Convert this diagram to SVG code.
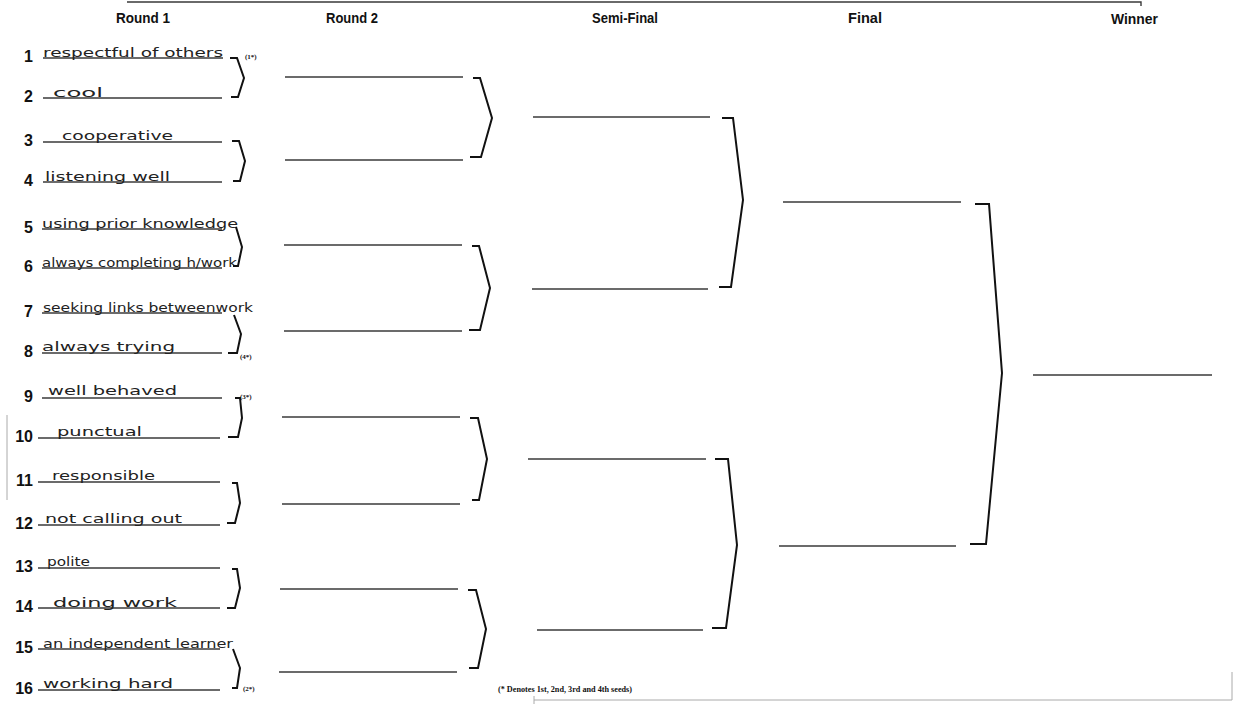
<svg xmlns="http://www.w3.org/2000/svg" width="1238" height="704" viewBox="0 0 1238 704">
<style>
.hdr{font-family:"Liberation Sans",Arial,sans-serif;font-weight:bold;font-size:15px;fill:#111}
.num{font-family:"Liberation Sans",Arial,sans-serif;font-weight:bold;font-size:16px;fill:#111;text-anchor:end}
.hand{font-family:"DejaVu Sans","Liberation Sans",sans-serif;font-size:12px;fill:#222}
.seed{font-family:"Liberation Serif","Times New Roman",serif;font-weight:bold;font-size:7px;fill:#111}
.slot{stroke:#3a3a3a;stroke-width:1.4;fill:none}
.br{fill:none;stroke:#111;stroke-width:2;stroke-linejoin:miter}
.faint{stroke:#aaa;stroke-width:1;fill:none}
.foot{font-family:"Liberation Serif","Times New Roman",serif;font-weight:bold;font-size:9px;fill:#111}
</style>
<rect width="1238" height="704" fill="#fff"/>
<g id="frame">
<path class="slot" d="M127,2 H1141 V6"/>
<line class="faint" x1="7" y1="415" x2="7" y2="500"/>
<path class="faint" d="M534,696 V704 M534,700 H1232 V672"/>
</g>
<g id="headers">
<text class="hdr" x="116" y="23" textLength="54" lengthAdjust="spacingAndGlyphs">Round 1</text>
<text class="hdr" x="326" y="23" textLength="52" lengthAdjust="spacingAndGlyphs">Round 2</text>
<text class="hdr" x="592" y="23" textLength="66" lengthAdjust="spacingAndGlyphs">Semi-Final</text>
<text class="hdr" x="848" y="23" textLength="34" lengthAdjust="spacingAndGlyphs">Final</text>
<text class="hdr" x="1111" y="24" textLength="47" lengthAdjust="spacingAndGlyphs">Winner</text>
</g>
<g id="round1">
<g id="e1"><text class="num" x="33" y="62">1</text><line class="slot" x1="43" y1="58" x2="223" y2="58"/><text class="hand" x="43" y="57" textLength="180" lengthAdjust="spacingAndGlyphs">respectful of others</text></g>
<g id="e2"><text class="num" x="33" y="102">2</text><line class="slot" x1="43" y1="98" x2="222" y2="98"/><text class="hand" x="53" y="97" textLength="50" lengthAdjust="spacingAndGlyphs">cool</text></g>
<g id="e3"><text class="num" x="33" y="146">3</text><line class="slot" x1="43" y1="142" x2="222" y2="142"/><text class="hand" x="62" y="140" textLength="111" lengthAdjust="spacingAndGlyphs">cooperative</text></g>
<g id="e4"><text class="num" x="33" y="186">4</text><line class="slot" x1="43" y1="182" x2="222" y2="182"/><text class="hand" x="45" y="181" textLength="125" lengthAdjust="spacingAndGlyphs">listening well</text></g>
<g id="e5"><text class="num" x="33" y="233">5</text><line class="slot" x1="42" y1="229" x2="222" y2="229"/><text class="hand" x="42" y="228" textLength="196" lengthAdjust="spacingAndGlyphs">using prior knowledge</text></g>
<g id="e6"><text class="num" x="33" y="272">6</text><line class="slot" x1="42" y1="268" x2="222" y2="268"/><text class="hand" x="42" y="267" textLength="195" lengthAdjust="spacingAndGlyphs">always completing h/work</text></g>
<g id="e7"><text class="num" x="33" y="317">7</text><line class="slot" x1="42" y1="313" x2="222" y2="313"/><text class="hand" x="43" y="312" textLength="210" lengthAdjust="spacingAndGlyphs">seeking links betweenwork</text></g>
<g id="e8"><text class="num" x="33" y="357">8</text><line class="slot" x1="42" y1="353" x2="222" y2="353"/><text class="hand" x="42" y="351" textLength="133" lengthAdjust="spacingAndGlyphs">always trying</text></g>
<g id="e9"><text class="num" x="33" y="402">9</text><line class="slot" x1="42" y1="398" x2="222" y2="398"/><text class="hand" x="48" y="395" textLength="129" lengthAdjust="spacingAndGlyphs">well behaved</text></g>
<g id="e10"><text class="num" x="33" y="442">10</text><line class="slot" x1="38" y1="438" x2="220" y2="438"/><text class="hand" x="57" y="436" textLength="85" lengthAdjust="spacingAndGlyphs">punctual</text></g>
<g id="e11"><text class="num" x="33" y="486">11</text><line class="slot" x1="38" y1="482" x2="220" y2="482"/><text class="hand" x="52" y="480" textLength="103" lengthAdjust="spacingAndGlyphs">responsible</text></g>
<g id="e12"><text class="num" x="33" y="529">12</text><line class="slot" x1="38" y1="525" x2="220" y2="525"/><text class="hand" x="45" y="523" textLength="137" lengthAdjust="spacingAndGlyphs">not calling out</text></g>
<g id="e13"><text class="num" x="33" y="572">13</text><line class="slot" x1="38" y1="568" x2="220" y2="568"/><text class="hand" x="47" y="566" textLength="43" lengthAdjust="spacingAndGlyphs">polite</text></g>
<g id="e14"><text class="num" x="33" y="612">14</text><line class="slot" x1="38" y1="608" x2="220" y2="608"/><text class="hand" x="53" y="607" textLength="124" lengthAdjust="spacingAndGlyphs">doing work</text></g>
<g id="e15"><text class="num" x="33" y="653">15</text><line class="slot" x1="38" y1="649" x2="220" y2="649"/><text class="hand" x="43" y="648" textLength="190" lengthAdjust="spacingAndGlyphs">an independent learner</text></g>
<g id="e16"><text class="num" x="33" y="694">16</text><line class="slot" x1="38" y1="690" x2="220" y2="690"/><text class="hand" x="43" y="688" textLength="130" lengthAdjust="spacingAndGlyphs">working hard</text></g>
</g>
<g id="seeds">
<text class="seed" x="245" y="59">(1*)</text>
<text class="seed" x="240" y="359">(4*)</text>
<text class="seed" x="240" y="399">(3*)</text>
<text class="seed" x="243" y="691">(2*)</text>
</g>
<g id="round2">
<line id="r2-1" class="slot" x1="285" y1="77" x2="463" y2="77"/>
<line id="r2-2" class="slot" x1="285" y1="160" x2="463" y2="160"/>
<line id="r2-3" class="slot" x1="284" y1="245" x2="462" y2="245"/>
<line id="r2-4" class="slot" x1="284" y1="331" x2="462" y2="331"/>
<line id="r2-5" class="slot" x1="282" y1="417" x2="460" y2="417"/>
<line id="r2-6" class="slot" x1="282" y1="504" x2="460" y2="504"/>
<line id="r2-7" class="slot" x1="280" y1="589" x2="458" y2="589"/>
<line id="r2-8" class="slot" x1="279" y1="672" x2="457" y2="672"/>
</g>
<g id="semifinal">
<line id="sf-1" class="slot" x1="533" y1="117" x2="710" y2="117"/>
<line id="sf-2" class="slot" x1="532" y1="289" x2="708" y2="289"/>
<line id="sf-3" class="slot" x1="528" y1="459" x2="706" y2="459"/>
<line id="sf-4" class="slot" x1="537" y1="630" x2="703" y2="630"/>
</g>
<g id="final">
<line id="f-1" class="slot" x1="783" y1="202" x2="961" y2="202"/>
<line id="f-2" class="slot" x1="779" y1="546" x2="956" y2="546"/>
</g>
<g id="winner">
<line id="w" class="slot" x1="1033" y1="375" x2="1212" y2="375"/>
</g>
<g id="connectors">
<path class="br" d="M230,58 H237 L244,78 L238,97 H231"/>
<path class="br" d="M232,141 H239 L245,161 L240,181 H233"/>
<path class="br" d="M236,227 L242,247 L238,266 H233"/>
<path class="br" d="M234,315 L241,334 L237,353 H228"/>
<path class="br" d="M235,398 H240 L242,418 L238,437 H228"/>
<path class="br" d="M232,483 H237 L240,503 L235,523 H227"/>
<path class="br" d="M232,569 H237 L240,588 L235,608 H227"/>
<path class="br" d="M233,649 L240,668 L237,688 H232"/>
<path class="br" d="M473,78 H480 L492,118 L481,157 H470"/>
<path class="br" d="M472,246 H479 L490,288 L480,330 H469"/>
<path class="br" d="M470,418 H478 L487,459 L479,500 H472"/>
<path class="br" d="M468,590 H476 L486,629 L478,668 H469"/>
<path class="br" d="M722,118 H733 L743,200 L731,287 H719"/>
<path class="br" d="M715,459 H728 L737,545 L726,628 H712"/>
<path class="br" d="M975,204 H989 L1002,373 L986,544 H970"/>
</g>
<g id="footer">
<text class="foot" x="498" y="692" textLength="134" lengthAdjust="spacingAndGlyphs">(* Denotes 1st, 2nd, 3rd and 4th seeds)</text>
</g>
</svg>
